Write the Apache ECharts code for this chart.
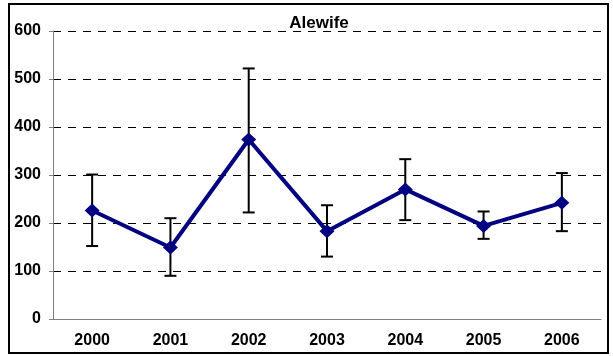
<!DOCTYPE html>
<html lang="en">

<head>
	<meta charset="UTF-8">
	<script src="https://cdn.jsdelivr.net/npm/echarts@6/dist/echarts.min.js"></script>
	<title>Alewife</title>
	<style>
		html, body { margin: 0; padding: 0; background: #fff; }
	</style>
</head>

<body>
	<div id="main" style="width: 613px;height:356px;"></div>

	<script>
		// data
		var years = ['2000', '2001', '2002', '2003', '2004', '2005', '2006'];
		var means = [226, 149, 374, 183, 270, 194, 242];
		var upper = [301, 210, 522, 237, 333, 224, 304];
		var lower = [152, 90, 222, 130, 206, 167, 183];
		var yTicks = [0, 100, 200, 300, 400, 500, 600];

		var errData = years.map(function (y, i) {
			return [i, lower[i], upper[i]];
		});

		var chart = echarts.init(document.getElementById('main'));

		var labelFont = {
			color: '#000',
			fontFamily: 'Arial, "Liberation Sans", sans-serif',
			fontWeight: 'bold',
			fontSize: 16
		};

		chart.setOption({
			backgroundColor: '#fff',
			animation: false,
			title: {
				text: 'Alewife',
				left: 314,
				top: 10,
				textAlign: 'center',
				textStyle: {
					color: '#000',
					fontFamily: 'Arial, "Liberation Sans", sans-serif',
					fontWeight: 'bold',
					fontSize: 17
				}
			},
			graphic: [{
				type: 'rect',
				shape: { x: 9, y: 4, width: 599, height: 349 },
				style: { fill: 'none', stroke: '#000', lineWidth: 2 },
				z: 100
			}],
			grid: { left: 53, right: 12, top: 31, bottom: 37 },
			xAxis: {
				type: 'category',
				data: years,
				boundaryGap: true,
				axisLine: { lineStyle: { color: '#808080', width: 1 } },
				axisTick: { length: 4, lineStyle: { color: '#808080' } },
				axisLabel: Object.assign({ margin: 14 }, labelFont)
			},
			yAxis: {
				type: 'value',
				min: yTicks[0],
				max: yTicks[yTicks.length - 1],
				interval: 100,
				axisLine: { show: true, lineStyle: { color: '#808080', width: 1 } },
				axisTick: { show: true, length: 4, lineStyle: { color: '#808080' } },
				axisLabel: Object.assign({ margin: 12 }, labelFont),
				splitLine: {
					lineStyle: { color: '#000', type: [8, 7], width: 1 }
				}
			},
			series: [
				{
					// error bars
					type: 'custom',
					data: errData,
					z: 2,
					renderItem: function (params, api) {
						var x = api.value(0);
						var lo = api.coord([x, api.value(1)]);
						var hi = api.coord([x, api.value(2)]);
						var cap = 6;
						var style = { stroke: '#000', lineWidth: 2 };
						return {
							type: 'group',
							children: [
								{ type: 'line', shape: { x1: hi[0], y1: hi[1], x2: lo[0], y2: lo[1] }, style: style },
								{ type: 'line', shape: { x1: hi[0] - cap, y1: hi[1], x2: hi[0] + cap, y2: hi[1] }, style: style },
								{ type: 'line', shape: { x1: lo[0] - cap, y1: lo[1], x2: lo[0] + cap, y2: lo[1] }, style: style }
							]
						};
					}
				},
				{
					type: 'line',
					data: means,
					z: 3,
					symbol: 'diamond',
					symbolSize: [15, 14],
					lineStyle: { color: '#000080', width: 4 },
					itemStyle: { color: '#000080' }
				}
			]
		});
	</script>
</body>

</html>
